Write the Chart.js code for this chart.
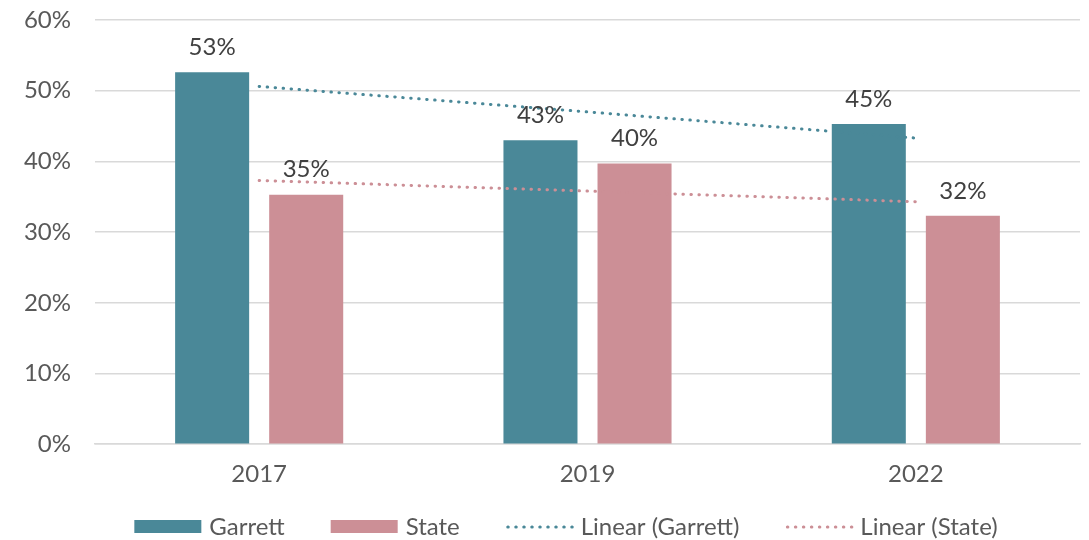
<!DOCTYPE html>
<html lang="en">
<head>
<meta charset="UTF-8">
<title>Garrett vs State</title>
<script src="https://cdn.jsdelivr.net/npm/chart.js"></script>
<style>
    html, body {
        margin: 0;
        padding: 0;
        background: #fff;
        overflow: hidden;
    }
    .wrap {
        width: 1089px;
        height: 540px;
    }
</style>
</head>
<body>
<div class="wrap"><canvas id="chart" width="1089" height="540"></canvas></div>

<script>
// data
const years = ['2017', '2019', '2022'];
const garrett = [52.6, 43.0, 45.3];
const state = [35.3, 39.7, 32.3];
const garrettTrend = [50.6, 47.0, 43.3];
const stateTrend = [37.3, 35.8, 34.3];
const seriesNames = ['Garrett', 'State', 'Linear (Garrett)', 'Linear (State)'];

const TEAL = '#4a8898';
const PINK = '#cc8f96';
const FONT = '24px Lato';

Chart.defaults.font.family = 'Lato';
Chart.defaults.font.size = 24;
Chart.defaults.color = '#595959';

// value labels above the bars
const barLabels = {
    id: 'barLabels',
    afterDatasetsDraw(chart) {
        const ctx = chart.ctx;
        ctx.save();
        ctx.font = FONT;
        ctx.fillStyle = '#404040';
        ctx.textAlign = 'center';
        ctx.textBaseline = 'middle';
        chart.data.datasets.forEach((ds, i) => {
            if (ds.type === 'line') return;
            chart.getDatasetMeta(i).data.forEach((bar, j) => {
                ctx.fillText(Math.round(ds.data[j]) + '%', bar.x, bar.y - 25);
            });
        });
        ctx.restore();
    }
};

// legend drawn along the bottom, like the original
const bottomLegend = {
    id: 'bottomLegend',
    afterDraw(chart) {
        const ctx = chart.ctx;
        ctx.save();
        ctx.font = FONT;
        const boxW = 67, textGap = 8, itemGap = 46;
        const sets = chart.data.datasets;
        const widths = sets.map(ds => boxW + textGap + ctx.measureText(ds.label).width);
        const total = widths.reduce((a, b) => a + b, 0) + itemGap * (sets.length - 1);
        let x = 566 - total / 2;
        const y = 527;
        sets.forEach((ds, i) => {
            if (ds.type === 'line') {
                ctx.strokeStyle = ds.borderColor;
                ctx.lineWidth = 3;
                ctx.lineCap = 'round';
                ctx.setLineDash([0.5, 7.5]);
                ctx.beginPath();
                ctx.moveTo(x + 2, y);
                ctx.lineTo(x + boxW, y);
                ctx.stroke();
                ctx.setLineDash([]);
            } else {
                ctx.fillStyle = ds.backgroundColor;
                ctx.fillRect(x, y - 7, boxW, 13);
            }
            ctx.fillStyle = '#595959';
            ctx.textBaseline = 'middle';
            ctx.fillText(ds.label, x + boxW + textGap, y);
            x += widths[i] + itemGap;
        });
        ctx.restore();
    }
};

const ctx = document.getElementById('chart').getContext('2d');
new Chart(ctx, {
    type: 'bar',
    data: {
        labels: years,
        datasets: [
            {
                label: seriesNames[0],
                data: garrett,
                backgroundColor: TEAL,
                order: 2,
                categoryPercentage: 0.573,
                barPercentage: 0.787
            },
            {
                label: seriesNames[1],
                data: state,
                backgroundColor: PINK,
                order: 2,
                categoryPercentage: 0.573,
                barPercentage: 0.787
            },
            {
                type: 'line',
                label: seriesNames[2],
                data: garrettTrend,
                borderColor: TEAL,
                borderWidth: 3,
                borderCapStyle: 'round',
                borderDash: [0.5, 7.5],
                pointRadius: 0,
                fill: false,
                order: 1
            },
            {
                type: 'line',
                label: seriesNames[3],
                data: stateTrend,
                borderColor: PINK,
                borderWidth: 3,
                borderCapStyle: 'round',
                borderDash: [0.5, 7.5],
                pointRadius: 0,
                fill: false,
                order: 1
            }
        ]
    },
    options: {
        responsive: false,
        animation: false,
        layout: {
            padding: { top: 20, right: 9, left: 0, bottom: 35 }
        },
        plugins: {
            legend: { display: false },
            tooltip: { enabled: false }
        },
        scales: {
            x: {
                grid: { display: false, drawTicks: false },
                border: { display: true, color: '#d9d9d9', width: 1.5 },
                ticks: { padding: 16, color: '#595959' }
            },
            y: {
                min: 0,
                max: 60,
                grid: { color: '#d9d9d9', lineWidth: 1.5, drawTicks: false },
                border: { display: false },
                ticks: {
                    stepSize: 10,
                    padding: 24,
                    color: '#595959',
                    callback: v => v + '%'
                },
                afterFit(scale) {
                    scale.width = 95;
                    scale.paddingTop = 0;
                    scale.paddingBottom = 0;
                }
            }
        }
    },
    plugins: [barLabels, bottomLegend]
});
</script>
</body>
</html>
